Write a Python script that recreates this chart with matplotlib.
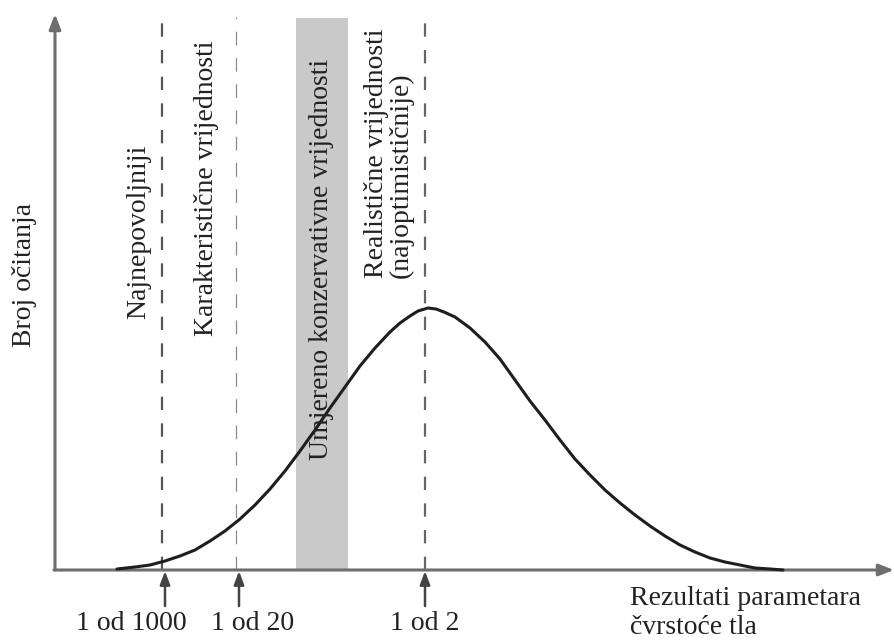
import matplotlib
matplotlib.use("Agg")
import matplotlib.pyplot as plt

# Ocitane tocke krivulje (x u pikselima, visina iznad osi x)
curve_x = [117, 135, 150, 165, 180, 195, 210, 225, 240, 255, 270, 285, 300, 315,
           330, 345, 360, 375, 390, 400, 410, 418, 428, 436, 444, 455, 470,
           485, 500, 515, 530, 545, 560, 575, 590, 605, 620, 635, 650, 665, 680,
           695, 710, 725, 740, 755, 770, 783]
curve_y = [1, 3, 5, 9, 14, 20, 29, 39, 51, 65, 81, 99, 119, 140,
           162, 183, 204, 222, 238, 247, 254, 259, 262, 261, 258, 253, 242,
           228, 211, 190, 169, 150, 130, 111, 95, 80, 67, 55, 44, 34, 25,
           18, 12, 8, 5, 2, 1, 0]

marker_x = [162, 236, 425]
marker_labels = ["1 od 1000", "1 od 20", "1 od 2"]
band_x = (296, 348)

x_label = "Rezultati parametara\nčvrstoće tla"
y_label = "Broj očitanja"

FONT = ["Liberation Serif", "DejaVu Serif"]
FS = 20
TXT = "#222222"

fig = plt.figure(figsize=(8.95, 6.43), dpi=100)
ax = fig.add_axes([0, 0, 1, 1])
ax.set_xlim(0, 895)
ax.set_ylim(-73, 570)
ax.axis("off")

# osi sa strelicama
ax.annotate("", xy=(55, 556), xytext=(55, 0),
            arrowprops=dict(arrowstyle="-|>,head_length=0.9,head_width=0.35",
                            color="#6e6e6e", lw=2.2, shrinkA=0, shrinkB=0))
ax.annotate("", xy=(894, 0), xytext=(54, 0),
            arrowprops=dict(arrowstyle="-|>,head_length=0.9,head_width=0.35",
                            color="#6e6e6e", lw=2.2, shrinkA=0, shrinkB=0))

# sivo podrucje
ax.axvspan(band_x[0], band_x[1], ymin=(0 + 73) / 643, ymax=(552 + 73) / 643,
           color="#c9c9c9", lw=0, zorder=1)

# isprekidane linije
ax.plot([marker_x[0]] * 2, [0, 553], color="#555555", lw=1.6,
        linestyle=(0, (6, 6)), zorder=2)
ax.plot([marker_x[1]] * 2, [0, 553], color="#8a8a8a", lw=0.9,
        linestyle=(0, (11, 10)), zorder=2)
ax.plot([marker_x[2]] * 2, [0, 553], color="#666666", lw=1.6,
        linestyle=(0, (6, 6)), zorder=2)

ax.plot(curve_x, curve_y, color="#1e1e1e", lw=2.2, zorder=4,
        solid_capstyle="round", solid_joinstyle="round")

# strelice ispod osi
for mx, lab, lx in zip(marker_x, marker_labels, [131, 253, 425]):
    ax_x = mx + 3 if mx < 400 else mx
    ax.annotate("", xy=(ax_x, -1), xytext=(ax_x, -36),
                arrowprops=dict(arrowstyle="-|>,head_length=0.8,head_width=0.3",
                                color="#444444", lw=1.8, shrinkA=0, shrinkB=0))
    ax.text(lx, -54, lab, ha="center", va="center", fontsize=FS,
            family=FONT, color=TXT)

ax.text(630, -16, x_label, ha="left", va="top", fontsize=FS,
        family=FONT, color=TXT, linespacing=1.2)
ax.text(25, 295, y_label, rotation=90, ha="center", va="center",
        fontsize=FS, family=FONT, color=TXT)

ax.text(139, 338, "Najnepovoljniji", rotation=90, ha="center", va="center",
        fontsize=FS, family=FONT, color=TXT)
ax.text(207, 382, "Karakteristične vrijednosti", rotation=90, ha="center",
        va="center", fontsize=FS, family=FONT, color=TXT)
ax.text(322, 311, "Umjereno konzervativne vrijednosti", rotation=90,
        ha="center", va="center", fontsize=FS, family=FONT, color=TXT,
        zorder=5)
ax.text(389, 292, "Realistične vrijednosti\n(najoptimističnije)", rotation=90,
        ha="center", va="bottom", multialignment="left", fontsize=FS,
        family=FONT, color=TXT, linespacing=1.0)

fig.savefig("out.png", dpi=100, facecolor="white")
